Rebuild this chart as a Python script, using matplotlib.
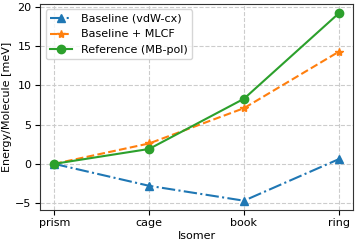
import matplotlib
matplotlib.use("Agg")
import matplotlib.pyplot as plt

isomers = ["prism", "cage", "book", "ring"]
baseline = [0.0, -2.8, -4.7, 0.6]
baseline_mlcf = [0.0, 2.6, 7.1, 14.3]
reference = [0.0, 1.9, 8.3, 19.2]

plt.rcParams["font.size"] = 8

fig, ax = plt.subplots(figsize=(3.57, 2.44), dpi=100)
x = range(len(isomers))
ax.plot(x, baseline, "-.", marker="^", color="#1f77b4", label="Baseline (vdW-cx)")
ax.plot(x, baseline_mlcf, "--", marker="*", color="#ff7f0e", label="Baseline + MLCF")
ax.plot(x, reference, "-", marker="o", color="#2ca02c", label="Reference (MB-pol)")
ax.set_xticks(list(x))
ax.set_xticklabels(isomers)
ax.tick_params(labelsize=8, pad=2.5)
ax.set_xlabel("Isomer", labelpad=2)
ax.set_ylabel("Energy/Molecule [meV]", labelpad=2)
ax.grid(True, linestyle="--", color="#cccccc")
for s in ax.spines.values():
    s.set_color("#333333")
ax.legend(loc="upper left", fontsize=8)
fig.subplots_adjust(left=0.112, right=0.989, top=0.984, bottom=0.139)
fig.savefig("out.png", dpi=100)
